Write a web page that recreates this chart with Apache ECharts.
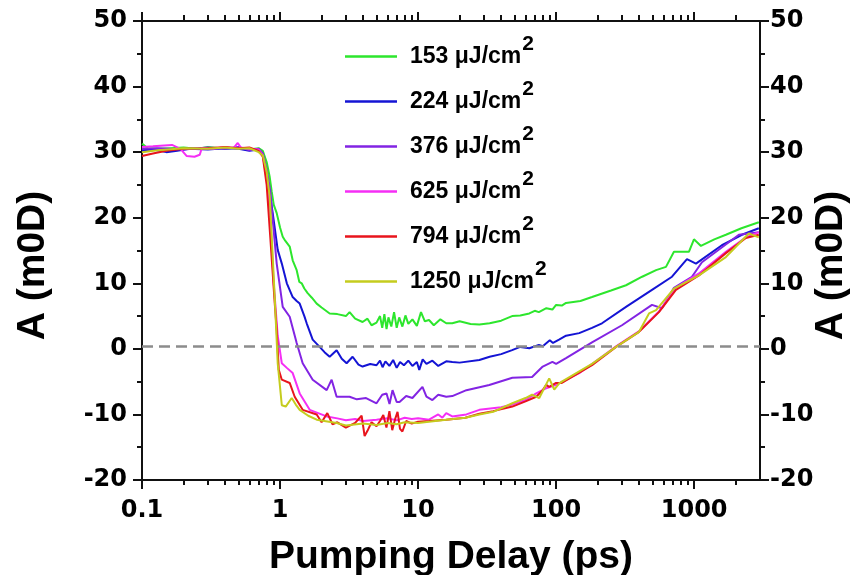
<!DOCTYPE html>
<html>
<head>
<meta charset="utf-8">
<script src="https://cdn.jsdelivr.net/npm/echarts@6/dist/echarts.min.js"></script>
<style>html,body{margin:0;padding:0;background:#fff}#chart{width:850px;height:575px}</style>
</head>
<body>
<div id="chart"></div>
<script>
// fluence labels (µJ/cm²) and line colours
const fluences = ['153', '224', '376', '625', '794', '1250'];
const colors = ['#2de62d', '#1414d4', '#8224e3', '#f52ef5', '#e8141c', '#c5cc1e'];

// [delay ps, A mOD]
const a153 = [[0.1,31.3],[0.11,30.6],[0.13,30.5],[0.16,30.6],[0.2,30.7],[0.25,30.5],[0.3,30.8],[0.4,30.5],[0.5,30.7],[0.6,30.4],[0.7,30.6],[0.75,30.2],[0.8,28.5],[0.842,26.2],[0.87,24],[0.9,22],[0.946,20.7],[1.0,18.5],[1.046,17.1],[1.09,16.5],[1.12,16.6],[1.175,15.6],[1.235,13.5],[1.32,12],[1.38,10.2],[1.435,10],[1.5,9.2],[1.585,8.5],[1.7,7.8],[1.843,6.9],[2.0,6.3],[2.288,5.4],[2.6,5.3],[3.0,5.0],[3.19,5.6],[3.5,4.6],[3.963,4.1],[4.3,4.6],[4.6,3.6],[5.0,4.0],[5.3,5.0],[5.5,3.2],[5.7,5.3],[5.91,3.0],[6.1,4.8],[6.4,3.4],[6.7,5.6],[7.0,3.2],[7.3,4.8],[7.7,3.4],[8.1,5.1],[8.5,3.8],[9.1,4.5],[9.8,3.5],[10.5,5.6],[11.2,4.2],[12,4.4],[13,3.6],[14.5,4.5],[16,3.9],[17.7,3.9],[20,4.2],[24,3.8],[27.8,3.7],[33,3.9],[40,4.3],[48,5.0],[55,5.1],[64,5.4],[70,5.8],[75,5.6],[85,6.2],[94,6.0],[100,6.7],[110,6.6],[118,7.0],[150,7.3],[182,7.9],[250,8.9],[321,9.7],[420,11.0],[530,12.0],[625,12.5],[714,14.8],[916,14.8],[997,16.7],[1120,15.7],[1400,16.7],[1698,17.4],[2200,18.4],[2941,19.3]];
const a224 = [[0.1,30.3],[0.12,30.4],[0.15,30.0],[0.18,30.2],[0.22,30.5],[0.3,30.4],[0.4,30.6],[0.5,30.5],[0.6,30.2],[0.7,30.4],[0.75,29.5],[0.8,27.0],[0.815,25.8],[0.885,20.7],[0.962,15.1],[1.03,13],[1.12,10],[1.235,7.9],[1.32,7.3],[1.388,6.9],[1.5,5.0],[1.56,3.9],[1.724,1.4],[1.936,0.3],[2.1,-0.5],[2.288,-1.2],[2.57,-0.2],[2.8,-1.5],[3.036,-2.2],[3.356,-1.2],[3.7,-2.4],[3.963,-2.7],[4.5,-2.3],[5.0,-2.5],[5.3,-1.8],[5.53,-2.8],[5.8,-1.9],[6.2,-2.6],[6.6,-1.7],[7.0,-2.9],[7.4,-2.0],[7.9,-2.5],[8.5,-1.8],[9.1,-2.6],[9.8,-2.0],[10.2,-3.2],[10.8,-1.6],[11.5,-2.3],[12.7,-1.8],[14,-2.6],[16,-1.9],[17.7,-2.0],[20,-2.1],[27.8,-1.7],[33,-1.2],[40,-0.8],[48,-0.2],[55,0.3],[64,0.1],[75,0.6],[80,0.4],[90,1.3],[95,0.9],[105,1.4],[118,2.0],[147,2.4],[182,3.2],[215,3.9],[321,6.4],[495,9.0],[691,11.0],[887,13.7],[1031,13.0],[1588,15.8],[2218,17.4],[2941,18.4]];
const a376 = [[0.1,30.5],[0.13,30.6],[0.2,30.4],[0.3,30.7],[0.4,30.5],[0.5,30.8],[0.6,30.3],[0.7,30.5],[0.75,29.8],[0.8,27.3],[0.85,24],[0.885,19.7],[0.946,13],[1.046,6.4],[1.175,4.9],[1.32,0.9],[1.459,-2.2],[1.724,-4.7],[2.177,-6.3],[2.365,-4.7],[2.57,-7.3],[3.19,-7.3],[3.6,-7.7],[4.2,-7.5],[5.0,-8.3],[5.5,-7.0],[5.91,-6.8],[6.21,-8.4],[6.53,-6.3],[7.0,-8.1],[7.34,-8.1],[8.2,-7.2],[9.1,-7.5],[10.76,-5.8],[11.5,-7.3],[12.7,-7.8],[14,-7.0],[16,-7.3],[17.7,-7.2],[22.4,-6.3],[32.8,-5.5],[48.2,-4.4],[67,-4.3],[80,-2.7],[94,-2.0],[100,-2.3],[118,-1.4],[182,1.0],[300,3.6],[495,6.7],[585,6.2],[714,9.3],[964,11.0],[1139,13.2],[2109,17.4],[2941,17.8]];
const a625 = [[0.1,30.8],[0.12,30.9],[0.165,31.1],[0.19,30.5],[0.211,29.4],[0.24,29.3],[0.262,29.6],[0.271,30.6],[0.33,30.5],[0.4,30.8],[0.46,30.6],[0.494,31.4],[0.52,30.7],[0.6,30.5],[0.7,30.4],[0.75,29.5],[0.8,26],[0.85,20],[0.9,10],[0.962,2],[1.03,-2.2],[1.12,-2.9],[1.235,-3.7],[1.388,-6.8],[1.64,-9.3],[2.177,-10.3],[2.6,-10.6],[3.0,-10.9],[3.5,-10.7],[4.0,-11.0],[5,-10.8],[6,-10.6],[7,-10.9],[8,-10.5],[9,-10.7],[10,-10.6],[12,-10.8],[14,-10.0],[15,-10.5],[16,-9.8],[17.7,-10.3],[22.4,-10.0],[27.8,-9.3],[40,-8.9],[48.2,-8.5],[60,-7.8],[71.8,-6.8],[85,-6.0],[100,-5.5],[147,-3.7],[182,-2.3],[272,0.4],[400,2.7],[556,5.7],[738,9.3],[1083,11.5],[1698,14.8],[2370,17.0],[2941,17.8]];
const a794 = [[0.1,29.4],[0.12,29.8],[0.15,30.2],[0.2,30.5],[0.3,30.6],[0.4,30.8],[0.5,30.6],[0.6,30.7],[0.7,30.2],[0.75,29.3],[0.8,25],[0.85,17],[0.915,7],[0.946,2.9],[0.979,-3.2],[1.03,-4.7],[1.175,-5.2],[1.277,-7.3],[1.459,-9.3],[1.843,-10],[2.0,-11.2],[2.2,-9.8],[2.4,-11.5],[2.6,-11.2],[3.0,-12.0],[3.5,-11.3],[3.9,-10.2],[4.1,-13.3],[4.3,-12.5],[4.6,-11.2],[5.0,-11.8],[5.3,-11.0],[5.6,-10.1],[5.9,-12.0],[6.2,-9.5],[6.5,-12.4],[6.8,-10.8],[7.1,-9.6],[7.4,-12.2],[7.7,-12.6],[8.2,-11.0],[9,-11.4],[10,-11.1],[12,-11.0],[16,-10.8],[22,-10.5],[27.8,-9.9],[35,-9.5],[48.2,-8.8],[60,-8.0],[71.8,-7.3],[80,-6.3],[84.8,-5.5],[89,-5.8],[100,-5.2],[110,-5.2],[182,-2.5],[272,0.3],[399,2.6],[556,5.6],[738,9.0],[1083,11.2],[1698,14.6],[2370,16.9],[2941,17.4]];
const a1250 = [[0.1,30.0],[0.13,30.3],[0.2,30.6],[0.3,30.5],[0.4,30.7],[0.5,30.5],[0.6,30.6],[0.7,30.0],[0.75,29.5],[0.8,27],[0.842,23.2],[0.915,7.9],[0.962,-2.2],[1.03,-8.6],[1.1,-8.8],[1.215,-7.5],[1.3,-8.5],[1.388,-9.3],[1.6,-10.2],[1.843,-10.8],[2.57,-11.3],[3,-11.7],[4,-11.4],[5,-11.6],[6,-11.3],[7,-11.5],[8,-11.2],[10,-11.3],[12,-11.1],[16,-10.8],[22,-10.5],[27.8,-10.0],[35,-9.6],[48.2,-8.3],[60,-7.5],[67,-7.0],[75.5,-7.5],[89.1,-4.5],[96.9,-6.2],[105,-5.3],[110,-5.0],[182,-2.3],[272,0.3],[399,2.6],[471,5.4],[530,5.9],[714,9.2],[1083,11.2],[1698,14.0],[2490,17.6],[2941,17.0]];
const seriesData = [a153, a224, a376, a625, a794, a1250];

// axis ticks
const xMin = 0.1, xMax = 3000;
const majorTicks = [0.1, 1, 10, 100, 1000];
const minorTicks = [0.2,0.3,0.4,0.5,0.6,0.7,0.8,0.9, 2,3,4,5,6,7,8,9, 20,30,40,50,60,70,80,90, 200,300,400,500,600,700,800,900, 2000];
const yMin = -20, yMax = 50, yStep = 10;
const baseline = 0.4;

const ink = { color: '#111', width: 2 };
const tickFont = { fontFamily: 'DejaVu Sans', fontWeight: 'bold', fontSize: 24, color: '#000' };
const titleFont = { fontFamily: 'Liberation Sans', fontWeight: 'bold', color: '#000' };

function xAxis(pos, ticks, len, labels) {
  return {
    type: 'log', logBase: 10, min: xMin, max: xMax, position: pos,
    axisLine: { show: labels !== null, onZero: false, lineStyle: ink },
    axisTick: { show: true, customValues: ticks, length: len, lineStyle: ink },
    axisLabel: labels ? Object.assign({ show: true, customValues: ticks, margin: 19, formatter: v => String(v) }, tickFont) : { show: false },
    splitLine: { show: false }, minorTick: { show: false }
  };
}

function yAxis(pos, margin, gap) {
  return {
    type: 'value', min: yMin, max: yMax, interval: yStep, position: pos,
    axisLine: { show: true, onZero: false, lineStyle: ink },
    axisTick: { show: true, length: 9, lineStyle: ink },
    minorTick: { show: true, splitNumber: 2, length: 5, lineStyle: ink },
    axisLabel: Object.assign({ margin: margin }, tickFont),
    splitLine: { show: false },
    name: 'A (m0D)', nameLocation: 'middle', nameRotate: 90, nameGap: gap, nameMoveOverlap: false,
    nameTextStyle: Object.assign({ fontSize: 39, padding: [0, 30, 0, 0] }, titleFont)
  };
}

const bottom = xAxis('bottom', majorTicks, 9, true);
bottom.name = 'Pumping Delay (ps)';
bottom.nameLocation = 'middle';
bottom.nameGap = 58;
bottom.nameTextStyle = Object.assign({ fontSize: 39 }, titleFont);

const chart = echarts.init(document.getElementById('chart'));
chart.setOption({
  animation: false,
  grid: { left: 142, right: 90, top: 21, bottom: 95, outerBoundsMode: 'none', containLabel: false },
  legend: {
    orient: 'vertical', left: 345, top: 34, padding: 0, itemGap: 0,
    icon: 'rect', itemWidth: 52, itemHeight: 2.5,
    formatter: n => '{b|' + n + ' \u03bcJ/cm}{s|2}',
    textStyle: {
      rich: {
        b: { fontFamily: 'Liberation Sans', fontWeight: 'bold', fontSize: 23, lineHeight: 24, padding: [10, 0, 10, 8], color: '#000' },
        s: { fontFamily: 'Liberation Sans', fontWeight: 'bold', fontSize: 21, lineHeight: 20, padding: [0, 0, 24, 1], color: '#000' }
      }
    },
    data: fluences
  },
  xAxis: [bottom, xAxis('top', majorTicks, 9, false), xAxis('bottom', minorTicks, 5, null), xAxis('top', minorTicks, 6, null)],
  yAxis: [yAxis('left', 15, 89), yAxis('right', 10, 52)],
  series: fluences.map((f, i) => ({
    name: f, type: 'line', xAxisIndex: 0, yAxisIndex: 0,
    data: seriesData[i], symbol: 'none', color: colors[i],
    lineStyle: { width: 2, color: colors[i] },
    markLine: i === 0 ? {
      silent: true, symbol: ['none', 'none'], label: { show: false },
      lineStyle: { color: '#8c8c8c', type: [11, 6], width: 2.5 },
      data: [{ yAxis: baseline }]
    } : undefined
  }))
});
</script>
</body>
</html>
